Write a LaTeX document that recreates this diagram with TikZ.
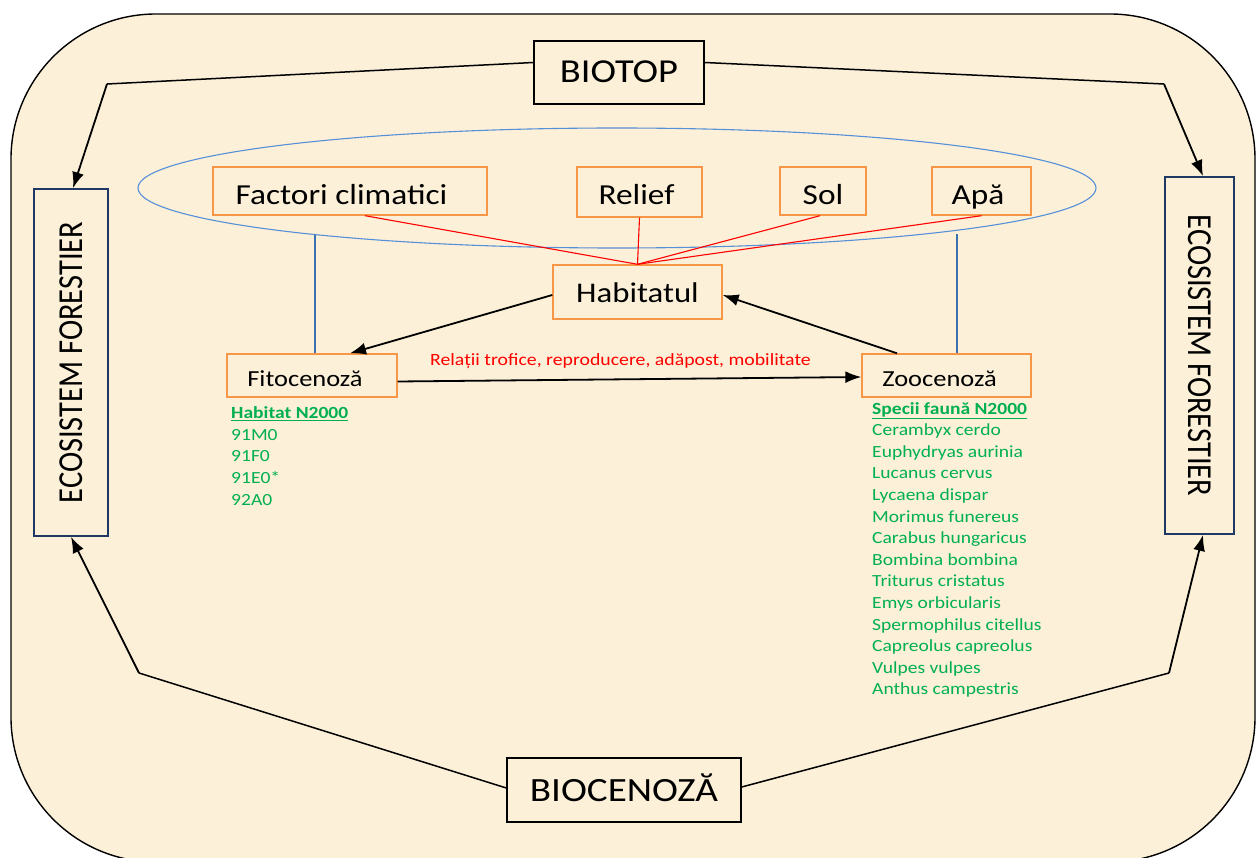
\documentclass[tikz,border=0pt]{standalone}
\usepackage{fontspec}
\setmainfont{Carlito}[FakeStretch=1.15]
\newfontfamily\plainfont{Carlito}
\usetikzlibrary{arrows.meta,shapes.geometric}
\definecolor{bg}{HTML}{FCF0D8}
\definecolor{org}{HTML}{F79646}
\definecolor{blu}{HTML}{5590D8}
\definecolor{bluline}{HTML}{3A6FB0}
\definecolor{navy}{HTML}{1F3864}
\definecolor{grn}{HTML}{00B050}
\definecolor{rd}{HTML}{FF0000}
\tikzset{
  fs/.style={font=\fontsize{#1}{#1}\selectfont},
  obox/.style={draw=org, line width=1.4pt, inner sep=0pt},
  kbox/.style={draw=black, line width=1.4pt, inner sep=0pt},
  ecobox/.style={draw=navy, line width=1.8pt, inner sep=0pt},
  arr/.style={line width=1.8pt, -{Latex[length=16pt,width=12pt]}},
  lnk/.style={line width=1.5pt},
  rline/.style={draw=rd, line width=1.1pt},
  bline/.style={draw=bluline, line width=1.3pt},
  gtext/.style={text=grn, align=left, anchor=north west, inner sep=0pt,
                font=\fontsize{17}{21.6}\selectfont},
}
\begin{document}
\begin{tikzpicture}[x=1pt,y=-1pt]
\useasboundingbox (0,0) rectangle (1258,858);
% background card
\draw[line width=1.4pt, fill=bg, rounded corners=145pt] (11,14) rectangle (1255,862);

% ellipse
\node[ellipse, draw=blu, line width=1.1pt, minimum width=958pt, minimum height=120pt, inner sep=0pt] (ell) at (617,188) {};

% boxes
\node[kbox, minimum width=170pt, minimum height=63pt, fs=33.5, text height=21pt, text depth=0pt] (bio) at (619,72.5) {BIOTOP};
\node[kbox, minimum width=234pt, minimum height=64pt, fs=34, text height=23pt, text depth=0pt] (bioc) at (624,790) {BIOCENOZĂ};

\node[ecobox, rotate=90, minimum width=347pt, minimum height=74pt] (ecoL) at (71,362.5)
  {\plainfont\fontsize{30.5}{30.5}\selectfont\scalebox{1}[1.15]{ECOSISTEM FORESTIER}};
\node[ecobox, rotate=-90, minimum width=357pt, minimum height=69pt] (ecoR) at (1199.5,355.5)
  {\plainfont\fontsize{30.5}{30.5}\selectfont\scalebox{1}[1.15]{ECOSISTEM FORESTIER}};

\node[obox, minimum width=274pt, minimum height=48pt, fs=29, text height=28pt, text depth=0pt] (fc) at (350,191) {Factori climatici\hspace*{17pt}};
\node[obox, minimum width=125pt, minimum height=50pt, fs=29, text height=26pt, text depth=0pt] (rel) at (639.5,192) {Relief\hspace*{6pt}};
\node[obox, minimum width=86pt, minimum height=48pt, fs=29, text height=28pt, text depth=0pt] (sol) at (823,191) {Sol};
\node[obox, minimum width=99pt, minimum height=48pt, fs=29, text height=28pt, text depth=0pt] (apa) at (981.5,191) {Apă\hspace*{7pt}};

\node[obox, minimum width=169pt, minimum height=54pt, fs=28.5, text height=22pt, text depth=0pt] (hab) at (637.5,292) {Habitatul};
\node[obox, minimum width=170pt, minimum height=43pt, fs=23, text height=21pt, text depth=0pt] (fito) at (312,375.5) {Fitocenoză\hspace*{14pt}};
\node[obox, minimum width=169pt, minimum height=43pt, fs=23, text height=21pt, text depth=0pt] (zoo) at (946.5,375.5) {Zoocenoză\hspace*{14pt}};

% connector label
\node[text=rd, fs=17.2, anchor=base, inner sep=0pt] (rellbl) at (620.5,366) {Relații trofice, reproducere, adăpost, mobilitate};

% green lists
\node[gtext] (habl) at (231,406.5) {\textbf{\underline{Habitat N2000}}\\91M0\\91F0\\91E0*\\92A0};
\node[gtext] (spl) at (872,402) {\textbf{\underline{Specii faună N2000}}\\Cerambyx cerdo\\Euphydryas aurinia\\Lucanus cervus\\Lycaena dispar\\Morimus funereus\\Carabus hungaricus\\Bombina bombina\\Triturus cristatus\\Emys orbicularis\\Spermophilus citellus\\Capreolus capreolus\\Vulpes vulpes\\Anthus campestris};

% red connectors
\draw[rline] ([xshift=15pt]fc.south) -- (hab.north);
\draw[rline] (rel.south) -- (hab.north);
\draw[rline] ([xshift=-3pt]sol.south) -- (hab.north);
\draw[rline] (apa.south) -- (hab.north);

% blue connectors (from the ellipse's lower border down to the boxes)
\coordinate (eL) at ([shift={(-302,47)}]ell.center);
\coordinate (eR) at ([shift={(340,46)}]ell.center);
\draw[bline] (eL) -- (eL |- fito.north);
\draw[bline] (eR) -- (eR |- zoo.north);

% black connectors
\coordinate (tl) at (107,84);
\coordinate (tr) at (1164,84);
\coordinate (bl) at (139,673);
\coordinate (br) at (1169,673);
\draw[lnk] ([yshift=10pt]bio.west) -- (tl);
\draw[arr] (tl) -- ([xshift=2pt]ecoL.east);
\draw[lnk] ([yshift=10pt]bio.east) -- (tr);
\draw[arr] (tr) -- ([xshift=3.5pt]ecoR.west);
\draw[lnk] ([yshift=2pt]bioc.west) -- (bl);
\draw[arr] (bl) -- (ecoL.west);
\draw[lnk] ([yshift=3pt]bioc.east) -- (br);
\draw[arr] (br) -- ([xshift=3.5pt]ecoR.east);

\draw[arr] ([yshift=-3pt]hab.west) -- ([xshift=38pt]fito.north);
\draw[arr] ([xshift=-49.5pt]zoo.north) -- ([yshift=-3pt]hab.east);
\draw[arr] ([yshift=-6pt]fito.east) -- ([yshift=-1.5pt]zoo.west);
\end{tikzpicture}
\end{document}
